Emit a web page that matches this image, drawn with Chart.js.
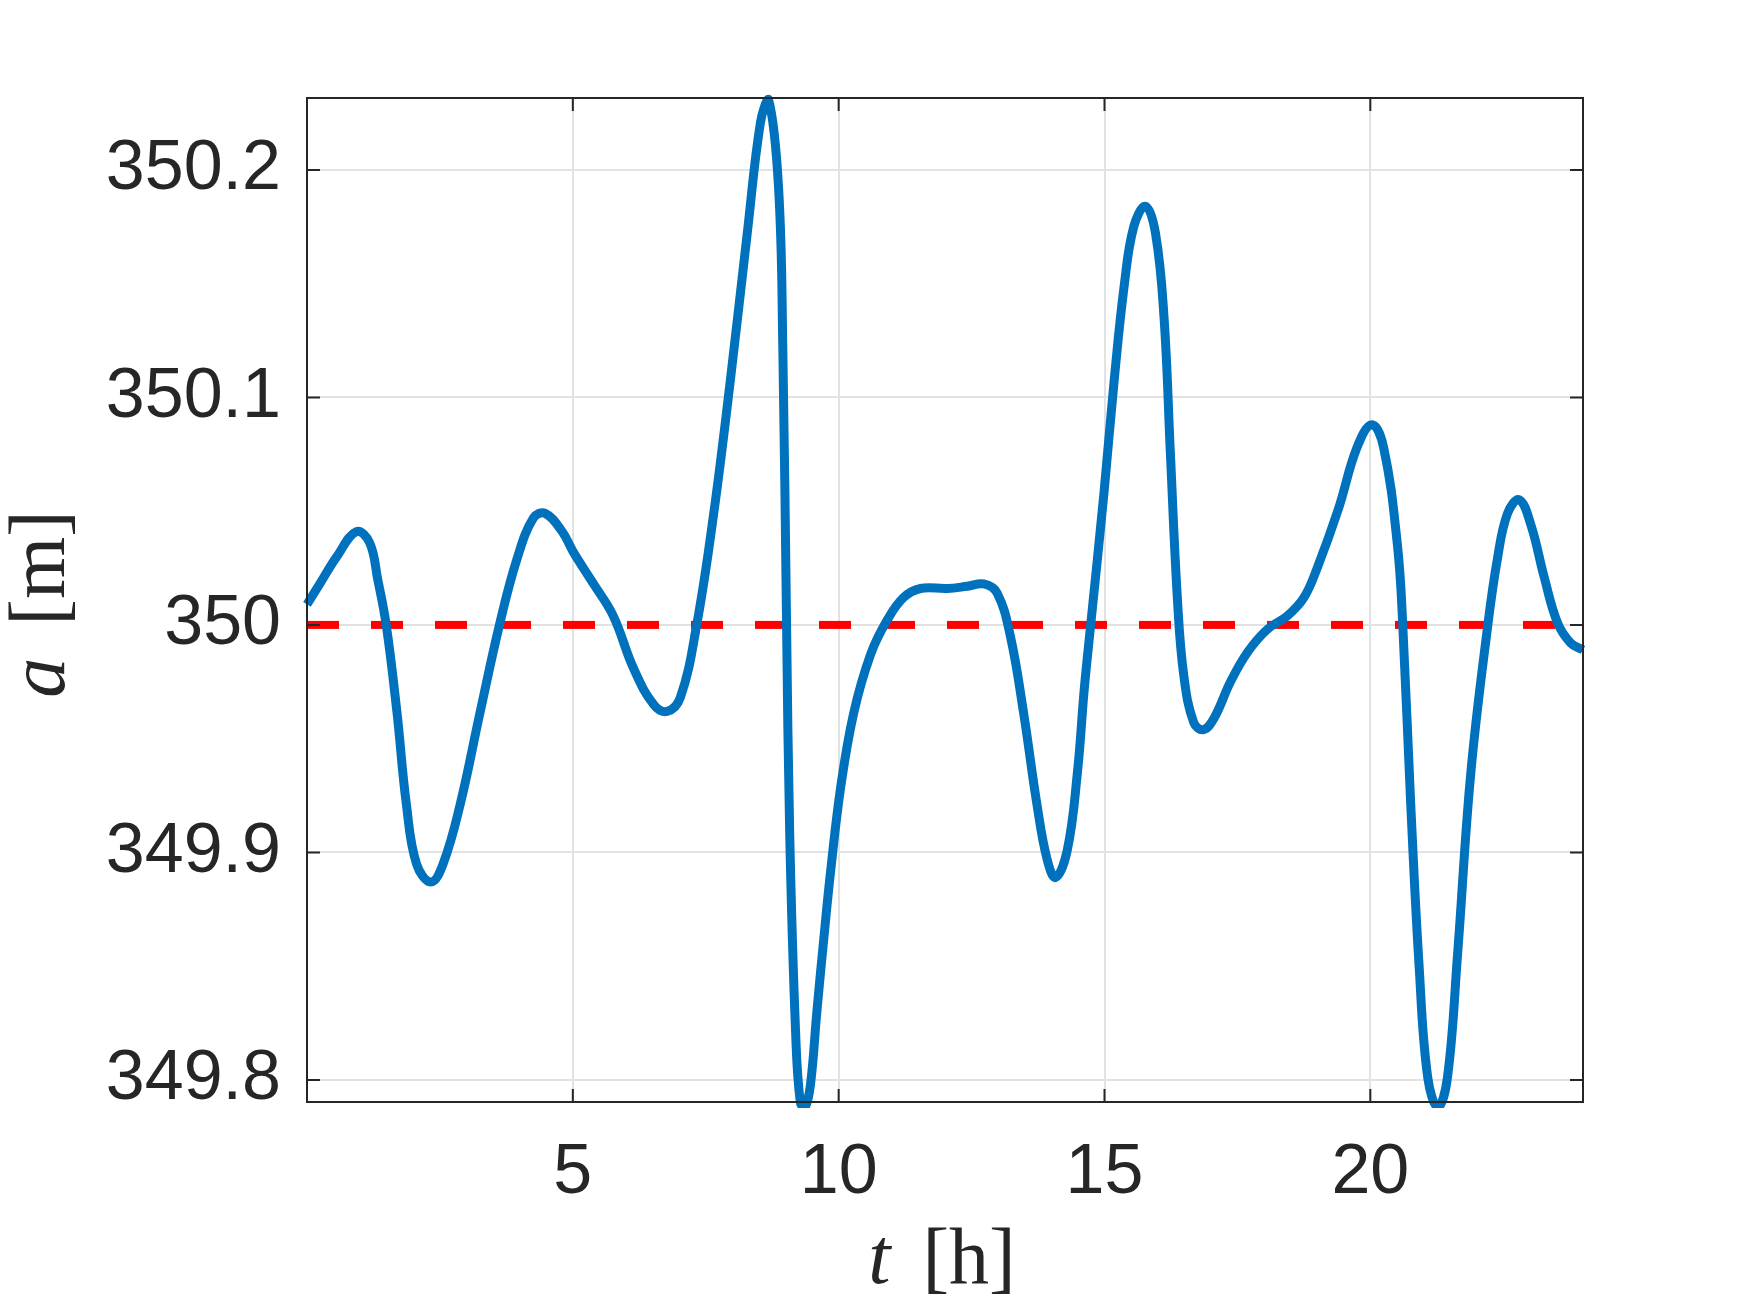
<!DOCTYPE html>
<html>
<head>
<meta charset="utf-8">
<script src="https://cdn.jsdelivr.net/npm/chart.js@4.4.1/dist/chart.umd.min.js"></script>
<style>
  body { margin: 0; background: #fff; }
  #wrap { width: 1750px; height: 1313px; }
</style>
</head>
<body>
<div id="wrap"><canvas id="orbitChart"></canvas></div>
<script>
// time [h]
const tValues = [
  0, 0.24, 0.56, 0.93, 1.18, 1.33, 1.49, 1.69, 1.87, 2.06,
  2.33, 2.56, 2.88, 3.25, 3.62, 3.95, 4.26, 4.48, 4.80, 5.01,
  5.39, 5.76, 6.14, 6.52, 6.77, 7.02, 7.33, 7.65, 7.96, 8.28,
  8.53, 8.68, 8.87, 8.95, 9.02, 9.08, 9.19, 9.28, 9.37, 9.47,
  9.59, 9.72, 9.85, 10.04, 10.28, 10.60, 10.91, 11.22, 11.54, 12.04,
  12.42, 12.73, 12.98, 13.23, 13.48, 13.73, 13.92, 14.08, 14.30, 14.49,
  14.62, 14.74, 14.99, 15.18, 15.37, 15.55, 15.77, 15.96, 16.12, 16.24,
  16.37, 16.49, 16.68, 16.86, 17.06, 17.37, 17.69, 18.06, 18.44, 18.75,
  19.00, 19.40, 19.75, 20.03, 20.25, 20.51, 20.61, 20.76, 20.92, 21.08,
  21.27, 21.45, 21.64, 21.89, 22.21, 22.39, 22.58, 22.80, 23.02, 23.27,
  23.52, 23.77, 24.00
];
// semi-major axis [m]
const aValues = [
  350.009, 350.018, 350.030, 350.041, 350.036, 350.020, 350.000, 349.962, 349.921, 349.895,
  349.887, 349.895, 349.921, 349.961, 350.000, 350.029, 350.047, 350.049, 350.041, 350.032,
  350.018, 350.004, 349.981, 349.965, 349.962, 349.968, 350.000, 350.049, 350.107, 350.172,
  350.221, 350.231, 350.192, 350.121, 350.000, 349.907, 349.821, 349.790, 349.788, 349.798,
  349.830, 349.862, 349.892, 349.929, 349.961, 349.987, 350.002, 350.012, 350.016, 350.016,
  350.017, 350.018, 350.014, 349.995, 349.961, 349.921, 349.897, 349.889, 349.901, 349.935,
  349.972, 350.000, 350.058, 350.107, 350.149, 350.175, 350.184, 350.172, 350.135, 350.075,
  350.012, 349.978, 349.957, 349.954, 349.959, 349.975, 349.988, 349.998, 350.004, 350.012,
  350.025, 350.051, 350.078, 350.088, 350.078, 350.035, 350.000, 349.921, 349.849, 349.801,
  349.788, 349.801, 349.855, 349.935, 350.000, 350.029, 350.049, 350.055, 350.044, 350.021,
  350.001, 349.992, 349.989
];
// nominal value
const refT = [0, 24];
const refA = [350, 350];

const xTicks = [5, 10, 15, 20];
const yTicks = [349.8, 349.9, 350, 350.1, 350.2];
const yTickLabels = ["349.8", "349.9", "350", "350.1", "350.2"];

const xTitleVar = "t", xTitleUnit = "[h]";
const yTitleVar = "a", yTitleUnit = "[m]";

const INK = "#262626";
const GRID = "#e2e2e2";

// box, inward ticks and the LaTeX-style axis titles
const framePlugin = {
  id: "frame",
  afterDatasetsDraw(chart) {
    const { ctx, chartArea: a, scales: { x, y } } = chart;
    ctx.save();
    ctx.strokeStyle = INK;
    ctx.lineWidth = 2;
    ctx.beginPath();
    xTicks.forEach(v => {
      const px = x.getPixelForValue(v);
      ctx.moveTo(px, a.bottom); ctx.lineTo(px, a.bottom - 13);
      ctx.moveTo(px, a.top); ctx.lineTo(px, a.top + 13);
    });
    yTicks.forEach(v => {
      const py = y.getPixelForValue(v);
      ctx.moveTo(a.left, py); ctx.lineTo(a.left + 13, py);
      ctx.moveTo(a.right, py); ctx.lineTo(a.right - 13, py);
    });
    ctx.stroke();
    ctx.strokeRect(a.left, a.top, a.right - a.left, a.bottom - a.top);

    ctx.fillStyle = INK;
    ctx.textBaseline = "alphabetic";
    ctx.textAlign = "left";
    const italic = 'italic 80px "Liberation Serif"';
    const upright = '80px "Liberation Serif"';
    const gap = 32;

    function drawTitle(v, u) {
      ctx.font = italic;
      const vw = ctx.measureText(v).width;
      ctx.font = upright;
      const uw = ctx.measureText(u).width;
      let sx = -(vw + gap + uw) / 2;
      ctx.font = italic;
      ctx.fillText(v, sx, 0);
      ctx.font = upright;
      ctx.fillText(u, sx + vw + gap, 0);
    }

    ctx.save();
    ctx.translate((a.left + a.right) / 2 - 3, 1283);
    drawTitle(xTitleVar, xTitleUnit);
    ctx.restore();

    ctx.save();
    ctx.translate(64, (a.top + a.bottom) / 2 + 4);
    ctx.rotate(-Math.PI / 2);
    drawTitle(yTitleVar, yTitleUnit);
    ctx.restore();

    ctx.restore();
  }
};

const ctx = document.getElementById("orbitChart").getContext("2d");

new Chart(ctx, {
  type: "line",
  data: {
    datasets: [
      {
        data: tValues.map((t, i) => ({ x: t, y: aValues[i] })),
        borderColor: "#0072BD",
        borderWidth: 9,
        pointRadius: 0,
        tension: 0.4,
        clip: 6,
        fill: false,
      },
      {
        data: refT.map((t, i) => ({ x: t, y: refA[i] })),
        borderColor: "#FF0000",
        borderWidth: 8,
        borderDash: [32, 32],
        pointRadius: 0,
        fill: false,
      },
    ],
  },
  options: {
    responsive: true,
    maintainAspectRatio: false,
    animation: false,
    layout: { padding: { top: 98, right: 167, left: 0, bottom: 0 } },
    plugins: {
      legend: { display: false },
      tooltip: { enabled: false },
    },
    scales: {
      x: {
        type: "linear",
        min: 0,
        max: 24,
        afterBuildTicks: s => { s.ticks = xTicks.map(v => ({ value: v })); },
        afterFit: s => { s.height = 211; },
        grid: { color: GRID, lineWidth: 2, drawTicks: false },
        border: { display: false },
        ticks: {
          color: INK,
          padding: 30,
          maxRotation: 0,
          font: { family: '"Liberation Sans", Arial, sans-serif', size: 70 },
        },
      },
      y: {
        type: "linear",
        min: 349.7903,
        max: 350.2316,
        afterBuildTicks: s => { s.ticks = yTicks.map(v => ({ value: v })); },
        afterFit: s => { s.width = 307; },
        grid: { color: GRID, lineWidth: 2, drawTicks: false },
        border: { display: false },
        ticks: {
          color: INK,
          padding: 26,
          font: { family: '"Liberation Sans", Arial, sans-serif', size: 70 },
          callback: (v) => {
            const i = yTicks.findIndex(t => Math.abs(t - v) < 1e-6);
            return i >= 0 ? yTickLabels[i] : "";
          },
        },
      },
    },
  },
  plugins: [framePlugin],
});
</script>
</body>
</html>
